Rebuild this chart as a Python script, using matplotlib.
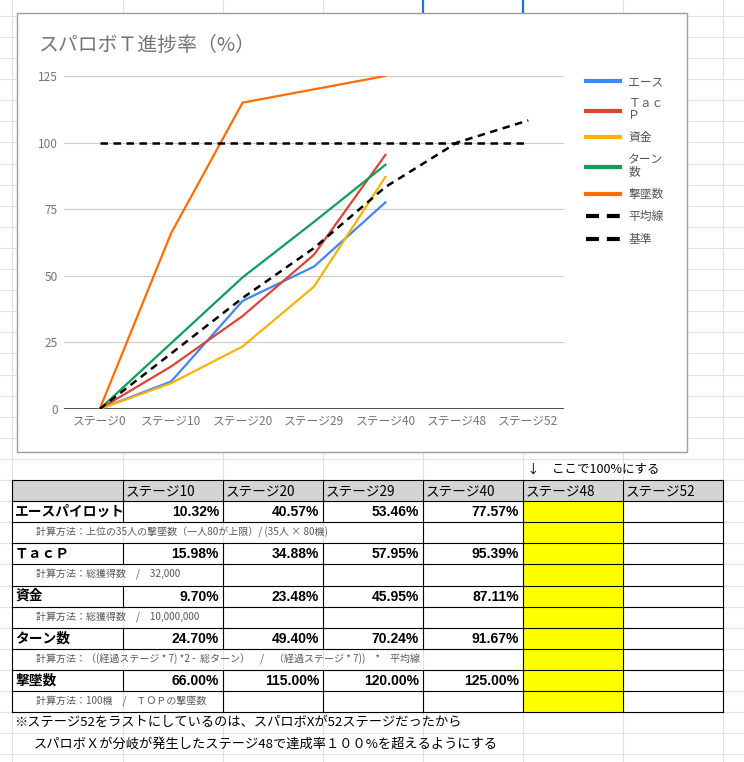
import matplotlib
matplotlib.use('Agg')
import matplotlib.pyplot as plt
from matplotlib.patches import Rectangle
from matplotlib.lines import Line2D

plt.rcParams['font.family'] = ['Noto Sans CJK JP', 'DejaVu Sans']

# chart data
stages = ['ステージ0', 'ステージ10', 'ステージ20', 'ステージ29', 'ステージ40', 'ステージ48', 'ステージ52']
ace = [0, 10.32, 40.57, 53.46, 77.57]
tacp = [0, 15.98, 34.88, 57.95, 95.39]
money = [0, 9.70, 23.48, 45.95, 87.11]
turns = [0, 24.70, 49.40, 70.24, 91.67]
kills = [0, 66.00, 115.00, 120.00, 125.00]
pace = [0, 20.83, 41.67, 60.42, 83.33, 100.0, 108.33]
base = [100, 100, 100, 100, 100, 100, 100]

legend_names = ['エース', 'Ｔａｃ\nＰ', '資金', 'ターン\n数', '撃墜数', '平均線', '基準']
colors = ['#4285f4', '#db4437', '#f4b400', '#0f9d58', '#ff6d01']

# table text
row_names = ['エースパイロット', 'ＴａｃＰ', '資金', 'ターン数', '撃墜数']
notes = ['計算方法：上位の35人の撃墜数（一人80が上限）/ (35人 × 80機)',
         '計算方法：総獲得数　/　32,000',
         '計算方法：総獲得数　/　10,000,000',
         '計算方法：（(経過ステージ * 7) *2 -  総ターン）　/　（経過ステージ * 7))　*　平均線',
         '計算方法：100機　/　ＴＯＰの撃墜数']
note_merge_end = [423, 223, 223, 523, 223]
remark1 = '※ステージ52をラストにしているのは、スパロボXが52ステージだったから'
remark2 = 'スパロボＸが分岐が発生したステージ48で達成率１００%を超えるようにする'
arrow_note = '↓　ここで100%にする'

W, H = 744, 762
fig = plt.figure(figsize=(W / 100, H / 100), dpi=100)
bg = fig.add_axes([0, 0, 1, 1])
bg.set_xlim(0, W)
bg.set_ylim(H, 0)
bg.axis('off')

# spreadsheet grid
cols = [12, 123, 223, 323, 423, 523, 623, 723]
rows = [480 + 21.1 * k for k in range(-23, 14)]
for x in cols:
    bg.axvline(x, color='#e2e2e2', lw=0.8, zorder=0)
for y in rows:
    bg.axhline(y, color='#e2e2e2', lw=0.8, zorder=0)

# column resize marks
for x in [423, 523]:
    bg.plot([x, x], [0, 12], color='#1a73e8', lw=1.6, zorder=1)

# chart box
bg.add_patch(Rectangle((17, 13), 670, 439, fc='white', ec='#9e9e9e', lw=1, zorder=2))
bg.text(38, 45, 'スパロボＴ進捗率（%）', fontsize=14.3, color='#757575', va='center', zorder=3)

ax = fig.add_axes([64 / W, 1 - 409 / H, 500 / W, 333 / H], zorder=5)
ax.patch.set_alpha(0)
ax.set_xlim(-0.5, 6.5)
ax.set_ylim(0, 125)
ax.set_yticks([0, 25, 50, 75, 100, 125])
ax.set_xticks(range(len(stages)))
ax.set_xticklabels(stages)
ax.yaxis.grid(True, color='#cccccc', lw=0.8)
ax.set_axisbelow(True)
for s in ax.spines.values():
    s.set_visible(False)
ax.tick_params(length=0, labelsize=8.5, labelcolor='#757575')
ax.tick_params(axis='y', pad=4.5)
ax.tick_params(axis='x', pad=4)
ax.axhline(0, color='#333333', lw=1.2, zorder=1)

for data, c in zip([ace, tacp, money, turns, kills], colors):
    ax.plot(range(len(data)), data, color=c, lw=1.6)
for data in [pace, base]:
    ax.plot(range(len(data)), data, color='black', lw=1.8, dashes=(3, 2.2))

leg_handles = [Line2D([], [], color=c, lw=3) for c in colors]
leg_handles += [Line2D([], [], color='black', lw=3, dashes=(3.1, 1.9)) for _ in range(2)]
leg = fig.legend(leg_handles, legend_names, loc='upper left',
                 bbox_to_anchor=(586 / W, 1 - 75 / H), frameon=False,
                 borderpad=0, borderaxespad=0, handlelength=2.9,
                 handletextpad=0.68, labelspacing=0.8, fontsize=8.5,
                 labelcolor='#555555')
for t in leg.get_texts():
    t.set_linespacing(0.85)

# table
r = [480 + 21.1 * k for k in range(14)]
bg.add_patch(Rectangle((12, r[0]), 711, r[1] - r[0], fc='#d4d4d4', ec='none', zorder=2))
bg.add_patch(Rectangle((523, r[1]), 100, r[11] - r[1], fc='#ffff00', ec='none', zorder=2))

for k in range(12):
    bg.plot([12, 723], [r[k], r[k]], color='black', lw=0.8, zorder=4)
for k in range(11):
    if k == 0 or k % 2 == 1:
        xs = cols
    else:
        end = note_merge_end[k // 2 - 1]
        xs = [12] + [x for x in cols if x >= end]
    for x in xs:
        bg.plot([x, x], [r[k], r[k + 1]], color='black', lw=0.8, zorder=4)

def mid(k):
    return (r[k] + r[k + 1]) / 2

for j, s in enumerate(stages[1:]):
    bg.text(cols[j + 1] + 3, mid(0) + 0.5, s, fontsize=9.8, va='center', zorder=5)

series = [ace, tacp, money, turns, kills]
for i, (name, data) in enumerate(zip(row_names, series)):
    k = 1 + 2 * i
    bg.text(15, mid(k), name, fontsize=9.9, fontweight='bold', va='center', zorder=5)
    for j, v in enumerate(data[1:]):
        bg.text(cols[j + 2] - 4, mid(k) + 0.5, '%.2f%%' % v, fontsize=10,
                fontweight='bold', ha='right', va='center', zorder=5,
                family=['Liberation Sans', 'Noto Sans CJK JP'])
    bg.text(36, mid(k + 1), notes[i], fontsize=7.2, color='#595959', va='center', zorder=5)

bg.text(527, 469, arrow_note, fontsize=9, va='center', zorder=5)
bg.text(14, mid(11), remark1, fontsize=9.5, va='center', zorder=5)
bg.text(34, mid(12), remark2, fontsize=9.5, va='center', zorder=5)

fig.savefig('out.png', dpi=100)
